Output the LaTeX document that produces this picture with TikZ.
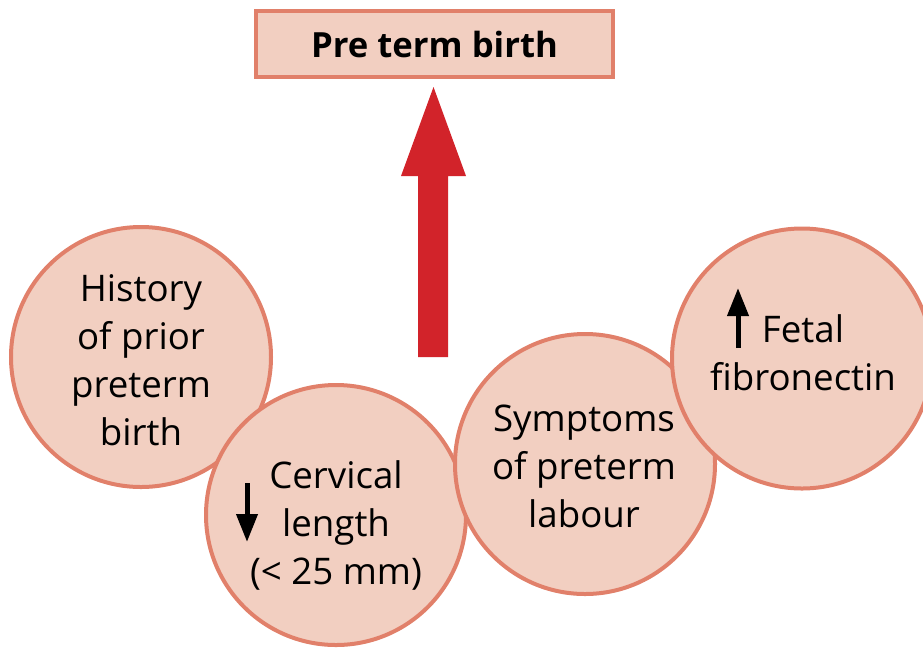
\documentclass[tikz,border=0pt]{standalone}
\usepackage{fontspec}
\setmainfont{Open Sans}
\usetikzlibrary{arrows.meta}
\definecolor{bubblefill}{RGB}{242,207,193}
\definecolor{bubbleline}{RGB}{225,128,106}
\definecolor{arrowred}{RGB}{210,35,42}
\begin{document}
\begin{tikzpicture}[x=0.75pt,y=-0.75pt,
  bubble/.style={circle,draw=bubbleline,fill=bubblefill,line width=3pt,minimum size=195pt,inner sep=0pt},
  txt/.style={align=center,font=\fontsize{27.5}{36}\selectfont,anchor=base,inner sep=0pt},
  titlebox/.style={draw=bubbleline,fill=bubblefill,line width=3pt,minimum width=267.75pt,minimum height=49.5pt,inner sep=0pt,font=\fontsize{26}{30}\selectfont\bfseries},
  trend/.style={-{Triangle[length=21pt,width=15.5pt]},line width=3.75pt,black}]
\useasboundingbox (0,0) rectangle (923,647);
\node[titlebox] (title) at (434.5,44) {Pre term birth};
\fill[arrowred] (418,357) -- (418,176) -- (401,176) -- (433.5,87) -- (466,176) -- (448,176) -- (448,357) -- cycle;
\node[bubble] (hist) at (141,357) {};
\node[bubble] (cerv) at (336,515) {};
\node[bubble] (symp) at (585,464) {};
\node[bubble] (fetal) at (802,358.5) {};
\node[txt] (histtext) at (141,445) {History\\of prior\\preterm\\birth};
\node[txt] (cervtext) at (336,584) {Cervical\\length\\(< 25 mm)};
\node[txt] (symptext) at (584,527) {Symptoms\\of preterm\\labour};
\node[txt] (fetaltext) at (803,390) {Fetal\\fibronectin};
\coordinate (cervtail) at (247,483);
\coordinate (cervtip) at (247,542);
\coordinate (fetaltail) at (738,348);
\coordinate (fetaltip) at (738,288);
\draw[trend] (cervtail) -- (cervtip);
\draw[trend] (fetaltail) -- (fetaltip);
\end{tikzpicture}
\end{document}
